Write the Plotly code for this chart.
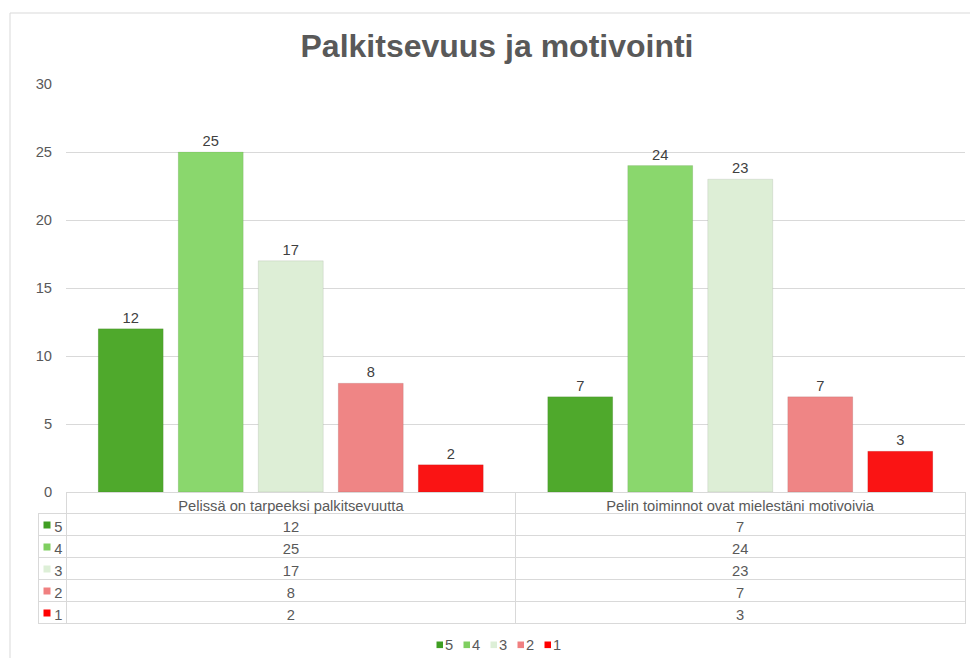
import plotly.graph_objects as go

categories = ["Pelissä on tarpeeksi palkitsevuutta", "Pelin toiminnot ovat mielestäni motivoivia"]
series_names = ["5", "4", "3", "2", "1"]
values_5 = [12, 7]
values_4 = [25, 24]
values_3 = [17, 23]
values_2 = [8, 7]
values_1 = [2, 3]
y_ticks = [0, 5, 10, 15, 20, 25, 30]
title_text = "Palkitsevuus ja motivointi"

series_values = [values_5, values_4, values_3, values_2, values_1]
bar_colors = ["#4FA92C", "#8AD76D", "#DDEED6", "#EF8585", "#FA1414"]
key_colors = ["#3F9E22", "#7FCF60", "#DDEFD7", "#F08080", "#FF0000"]

FONT = "Liberation Sans, Arial, sans-serif"
FS = 14.7
W, H = 970, 658
ml, mr, mt, mb = 38, 5, 84, 33
pw = W - ml - mr
ph = H - mt - mb
header_h, row_h = 21, 22
table_h = header_h + row_h * len(series_names)
table_area = table_h + 2


def px_x(x):
    return (x - ml) / pw


def px_y(y):
    return (H - mb - y) / ph


fig = go.Figure()
for name, vals, col in zip(series_names, series_values, bar_colors):
    fig.add_trace(go.Bar(
        x=categories, y=vals, name=name,
        marker=dict(color=col, line=dict(color="rgba(0,0,0,0.08)", width=1)),
        text=vals, textposition="outside",
        textfont=dict(size=FS, color="#404040", family=FONT),
        cliponaxis=False, showlegend=False,
    ))

key_cells = ["\u00a0\u00a0\u00a0" + n for n in series_names]
col1 = [str(v[0]) for v in series_values]
col2 = [str(v[1]) for v in series_values]

fig.add_trace(go.Table(
    domain=dict(x=[0, 1], y=[0, table_area / ph]),
    columnwidth=[28.5, 448.5, 449.5],
    header=dict(
        values=["", categories[0], categories[1]],
        fill=dict(color=["rgba(0,0,0,0)", "white", "white"]),
        line=dict(color=["rgba(0,0,0,0)", "#D9D9D9", "#D9D9D9"], width=1),
        font=dict(size=FS, color="#595959", family=FONT),
        align="center", height=header_h,
    ),
    cells=dict(
        values=[key_cells, col1, col2],
        fill=dict(color="white"),
        line=dict(color="#D9D9D9", width=1),
        font=dict(size=FS, color="#595959", family=FONT),
        align="center", height=row_h,
    ),
))

# legend keys inside the table's first column
table_top_px = H - mb - table_area
for i, c in enumerate(key_colors):
    yc = table_top_px + header_h + row_h * i + row_h / 2 + 1
    fig.add_shape(type="rect", xref="paper", yref="paper",
                  x0=px_x(43.5), x1=px_x(50.5), y0=px_y(yc - 3.5), y1=px_y(yc + 3.5),
                  fillcolor=c, line=dict(width=0), layer="above")

# bottom legend
leg_y = 644.8
for i, (n, c) in enumerate(zip(series_names, key_colors)):
    x0 = 436.5 + 27 * i
    fig.add_shape(type="rect", xref="paper", yref="paper",
                  x0=px_x(x0), x1=px_x(x0 + 6.5), y0=px_y(leg_y - 3.3), y1=px_y(leg_y + 3.3),
                  fillcolor=c, line=dict(width=0))
    fig.add_annotation(
        text=n, xref="paper", yref="paper",
        x=px_x(x0 + 7.5), y=px_y(leg_y),
        xanchor="left", yanchor="middle", showarrow=False, borderpad=0,
        font=dict(size=FS, color="#595959", family=FONT),
    )

# chart border
fig.add_shape(type="line", xref="paper", yref="paper",
              x0=px_x(10), x1=px_x(W + 5), y0=px_y(13), y1=px_y(13),
              line=dict(color="#D9D9D9", width=1))
fig.add_shape(type="line", xref="paper", yref="paper",
              x0=px_x(10), x1=px_x(10), y0=px_y(13), y1=px_y(H + 10),
              line=dict(color="#D9D9D9", width=1))

fig.update_layout(
    width=W, height=H,
    margin=dict(l=ml, r=mr, t=mt, b=mb, pad=0),
    paper_bgcolor="white", plot_bgcolor="white",
    barmode="group", bargap=0.11, bargroupgap=0.1875,
    title=dict(text=f"<b>{title_text}</b>", xref="container", yref="container",
               x=497 / W, y=1 - 46 / H, xanchor="center", yanchor="middle",
               font=dict(size=32, color="#595959", family=FONT)),
    font=dict(family=FONT, color="#595959"),
    xaxis=dict(domain=[px_x(66), 1], showticklabels=False, showgrid=False,
               showline=False, zeroline=False, fixedrange=True),
    yaxis=dict(domain=[table_area / ph, 1], range=[0, 30], tickvals=y_ticks,
               showgrid=True, gridcolor="#D9D9D9", gridwidth=1,
               zeroline=False, showline=False,
               ticks="outside", ticklen=10, tickcolor="rgba(0,0,0,0)",
               tickfont=dict(size=FS, color="#595959", family=FONT)),
)

fig.write_html("out.html", config={"displayModeBar": False},
               post_script="document.body.style.margin='0';document.body.style.overflow='hidden';")
